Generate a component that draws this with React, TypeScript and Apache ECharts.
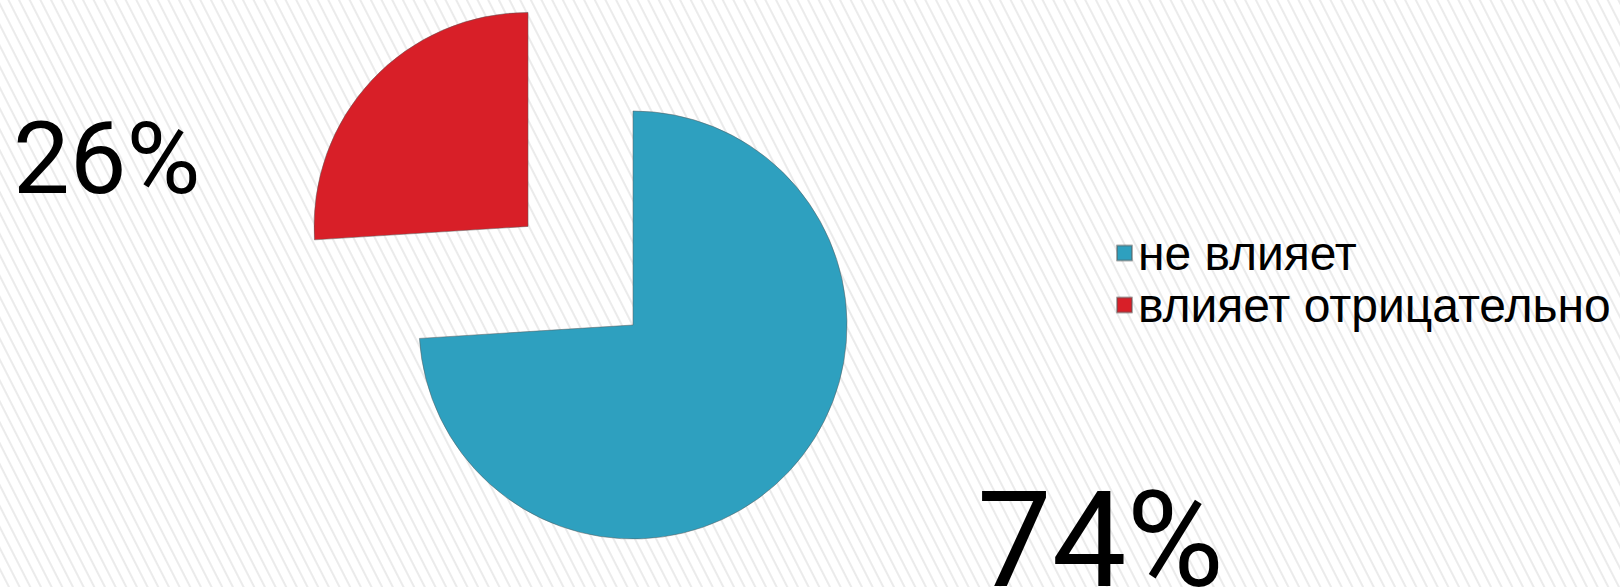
import React, { useEffect, useRef } from "react";
import * as echarts from "echarts";

const categories = ["не влияет", "влияет отрицательно"];
const values = [74, 26];
const colors = ["#2EA0BF", "#D81F28"];
const labels = ["74%", "26%"];

export default function App() {
  const ref = useRef<HTMLDivElement>(null);
  useEffect(() => {
    const chart = echarts.init(ref.current!, undefined, { renderer: "svg" });
    chart.setOption({
      animation: false,
      backgroundColor: "transparent",
      legend: {
        orient: "vertical",
        left: 1111,
        top: 224,
        itemWidth: 15,
        itemHeight: 15,
        itemGap: 4,
        icon: "rect",
        selectedMode: false,
        data: categories,
        textStyle: { fontFamily: "Liberation Sans", fontSize: 48, color: "#000", padding: [0, 0, 0, 1] },
      },
      graphic: [
        {
          type: "text",
          x: 13,
          y: 158,
          style: {
            text: labels[1],
            fontFamily: "Roboto",
            fontSize: 101,
            fill: "#000",
            textVerticalAlign: "middle",
          },
        },
        {
          type: "text",
          x: 977,
          y: 540,
          style: {
            text: labels[0],
            fontFamily: "Roboto",
            fontSize: 133,
            fill: "#000",
            textVerticalAlign: "middle",
          },
        },
      ],
      series: [
        {
          type: "pie",
          center: [633, 325],
          radius: 214,
          startAngle: 90,
          clockwise: true,
          selectedMode: "multiple",
          selectedOffset: 144,
          label: { show: false },
          labelLine: { show: false },
          emphasis: { disabled: true },
          data: categories.map((c, i) => ({
            name: c,
            value: values[i],
            selected: i === 1,
            itemStyle: { color: colors[i], borderColor: "rgba(90,90,90,0.5)", borderWidth: 1 },
            select: { itemStyle: { color: colors[i], borderColor: "rgba(90,90,90,0.5)", borderWidth: 1 } },
          })),
        },
      ],
    });
    return () => chart.dispose();
  }, []);
  return (
    <div
      ref={ref}
      style={{
        position: "fixed",
        left: 0,
        top: 0,
        width: 1620,
        height: 587,
        background:
          "repeating-linear-gradient(63deg, #ffffff 0px, #ffffff 6.5px, #ebebeb 7.5px, #ebebeb 8.5px, #ffffff 9.5px)",
      }}
    />
  );
}
